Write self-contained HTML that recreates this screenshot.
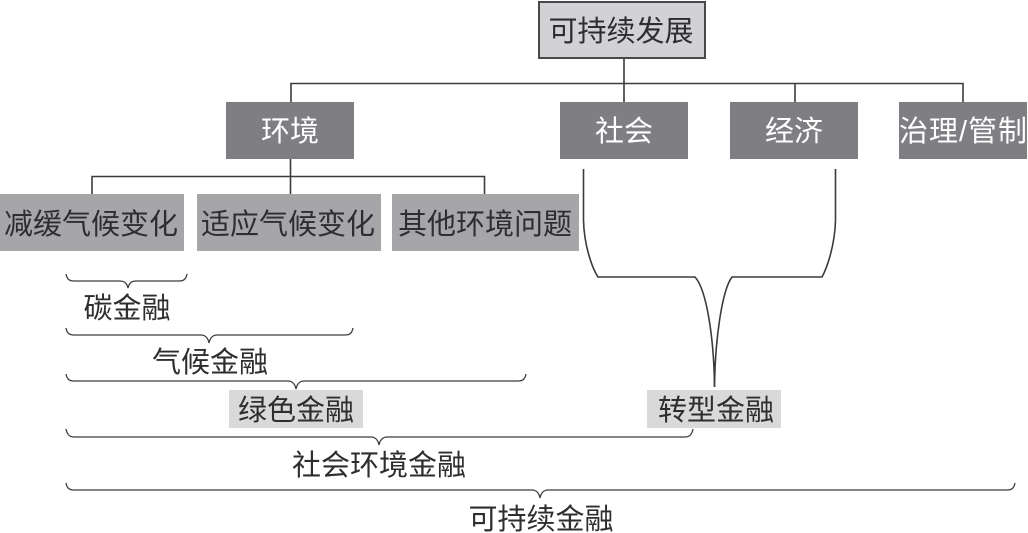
<!DOCTYPE html>
<html lang="zh">
<head>
<meta charset="utf-8">
<style>
html,body{margin:0;padding:0;background:#fff;width:1028px;height:533px;overflow:hidden}
svg{display:block}
text{font-family:"Liberation Sans","Noto Sans CJK SC",sans-serif;font-size:29px;text-anchor:middle;fill:#2e2e30}
text.w{fill:#fff}
.l{fill:none;stroke:#3c3c3e;stroke-width:1.6}
.b{fill:none;stroke:#3c3c3e;stroke-width:1.3}
</style>
</head>
<body>
<svg width="1028" height="533" viewBox="0 0 1028 533" xmlns="http://www.w3.org/2000/svg">
<!-- tree connectors -->
<path class="l" d="M624 57V102M291 102V83.500H963V102M795 83.500V102"/>
<path class="l" d="M290.500 158V194M92 194V176.500H484.500V194"/>
<!-- boxes -->
<rect x="539" y="2" width="166" height="56" fill="#d2d2d4" stroke="#48484a" stroke-width="2"/>
<rect x="226" y="102" width="128" height="57" fill="#7f7f83"/>
<rect x="560" y="102" width="128" height="57" fill="#7f7f83"/>
<rect x="730" y="102" width="128" height="57" fill="#7f7f83"/>
<rect x="899" y="102" width="128" height="57" fill="#7f7f83"/>
<rect x="0" y="194" width="184" height="57" fill="#a6a6a9"/>
<rect x="197" y="194" width="184" height="57" fill="#a6a6a9"/>
<rect x="392" y="194" width="187" height="57" fill="#a6a6a9"/>
<rect x="229" y="390" width="134" height="38" fill="#d9d9da"/>
<rect x="647" y="390" width="134" height="38" fill="#d9d9da"/>
<!-- labels -->
<text x="621" y="41">可持续发展</text>
<text class="w" x="290" y="141">环境</text>
<text class="w" x="624" y="141">社会</text>
<text class="w" x="794" y="141">经济</text>
<text x="963" y="141" class="w" textLength="128" lengthAdjust="spacing">治理/管制</text>
<text x="91" y="234">减缓气候变化</text>
<text x="288" y="234">适应气候变化</text>
<text x="485" y="234">其他环境问题</text>
<text x="127" y="318">碳金融</text>
<text x="210" y="372">气候金融</text>
<text x="296" y="420">绿色金融</text>
<text x="716" y="420">转型金融</text>
<text x="379" y="475">社会环境金融</text>
<text x="541" y="529">可持续金融</text>
<!-- braces -->
<path class="b" d="M66 274C67 279 69 281 74 281H120C124 281 127 283 128 288C129 283 132 281 136 281H179C184 281 186 279 187 274"/>
<path class="b" d="M66 328C67 333 69 335 74 335H201C205 335 208 338 209 343C210 338 213 335 217 335H345C350 335 352 333 353 328"/>
<path class="b" d="M66 374C67 379 69 381 74 381H288C292 381 295 384 296 389C297 384 300 381 304 381H518C523 381 525 379 526 374"/>
<path class="b" d="M66 429C67 434 69 437 74 437H371C375 437 378 440 379 445C380 440 383 437 387 437H685C690 437 692 434 693 429"/>
<path class="b" d="M66 483C67 488 69 490 74 490H532C536 490 539 493 540 498C541 493 544 490 548 490H1007C1012 490 1014 488 1015 483"/>
<!-- transition finance connector -->
<path class="l" d="M583.500 169V220C584 245 592 268 598 277H695C707 290 714 340 714.500 387"/>
<path class="l" d="M835.500 169V220C835 245 827 268 822 277H732C722 290 715 340 714.500 387"/>
</svg>
</body>
</html>
